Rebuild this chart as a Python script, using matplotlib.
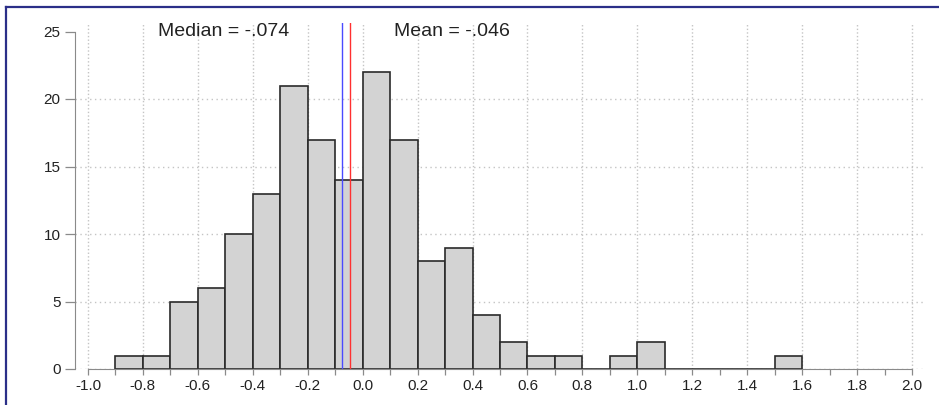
import matplotlib
matplotlib.use("Agg")
import matplotlib.pyplot as plt
from matplotlib.lines import Line2D

# dados do histograma (bins de 0.1)
bin_left = [-0.9, -0.8, -0.7, -0.6, -0.5, -0.4, -0.3, -0.2, -0.1, 0.0,
            0.1, 0.2, 0.3, 0.4, 0.5, 0.6, 0.7, 0.8, 0.9, 1.0,
            1.1, 1.2, 1.3, 1.4, 1.5]
counts = [1, 1, 5, 6, 10, 13, 21, 17, 14, 22,
          17, 8, 9, 4, 2, 1, 1, 0, 1, 2,
          0, 0, 0, 0, 1]
bin_width = 0.1

median_val = -0.074
mean_val = -0.046
median_label = "Median = -.074"
mean_label = "Mean = -.046"

x_major = [-1.0, -0.8, -0.6, -0.4, -0.2, 0.0, 0.2, 0.4, 0.6, 0.8,
           1.0, 1.2, 1.4, 1.6, 1.8, 2.0]
x_labels = ["-1.0", "-0.8", "-0.6", "-0.4", "-0.2", "0.0", "0.2", "0.4", "0.6", "0.8",
            "1.0", "1.2", "1.4", "1.6", "1.8", "2.0"]
y_ticks = [0, 5, 10, 15, 20, 25]

plt.rcParams['font.family'] = ['Liberation Sans', 'DejaVu Sans']

W, H = 939, 405
fig = plt.figure(figsize=(W / 100, H / 100), dpi=100)
# eixo posicionado em pixels
ax = fig.add_axes([75 / W, (H - 369) / H, (925 - 75) / W, (369 - 23) / H])

px_per_unit = (912 - 88) / 3.0
ax.set_xlim(-1.0 - 13 / px_per_unit, 2.0 + 13 / px_per_unit)
ax.set_ylim(0, (369 - 23) / 13.5)

# grid pontilhado
for xv in x_major:
    ax.axvline(xv, color='#c4c4c4', lw=1.0, ls=(0, (1, 1.6)), zorder=0)
for yv in y_ticks[:-1]:
    ax.axhline(yv, color='#c4c4c4', lw=1.0, ls=(0, (1, 2.5)), zorder=0)

ax.bar(bin_left, counts, width=bin_width, align='edge', color='#d3d3d3',
       edgecolor='#2a2a2a', linewidth=1.2, zorder=2)

ax.axvline(median_val, color='#4a4aff', lw=1.0, zorder=3)
ax.axvline(mean_val, color='#ff3030', lw=1.0, zorder=3)

ax.text(-0.508, 25, median_label, ha='center', va='center', fontsize=14, color='#222222')
ax.text(0.325, 25, mean_label, ha='center', va='center', fontsize=14, color='#222222')

for s in ['top', 'right']:
    ax.spines[s].set_visible(False)
ax.spines['left'].set_bounds(0, 25)
ax.spines['bottom'].set_bounds(-1.0, 2.0)
ax.spines['left'].set_color('#8a8a8a')
ax.spines['bottom'].set_color('#8a8a8a')

ax.set_xticks(x_major)
ax.set_xticklabels(x_labels)
ax.set_xticks(bin_left + [-1.0, 1.6, 1.7, 1.8, 1.9, 2.0], minor=True)
ax.set_yticks(y_ticks)
ax.tick_params(axis='x', which='both', length=4.3, width=0.9, color='#8a8a8a',
               labelsize=11, labelcolor='#222222', pad=3)
ax.tick_params(axis='y', length=7, width=0.9, color='#8a8a8a',
               labelsize=11, labelcolor='#222222', pad=3.5)

# moldura azul da figura
border = '#2b2f88'
fig.add_artist(Line2D([6 / W, 6 / W], [0, (H - 7) / H], color=border, lw=1.6))
fig.add_artist(Line2D([6 / W, 1], [(H - 7) / H, (H - 7) / H], color=border, lw=1.6))

fig.savefig('out.png', dpi=100)
